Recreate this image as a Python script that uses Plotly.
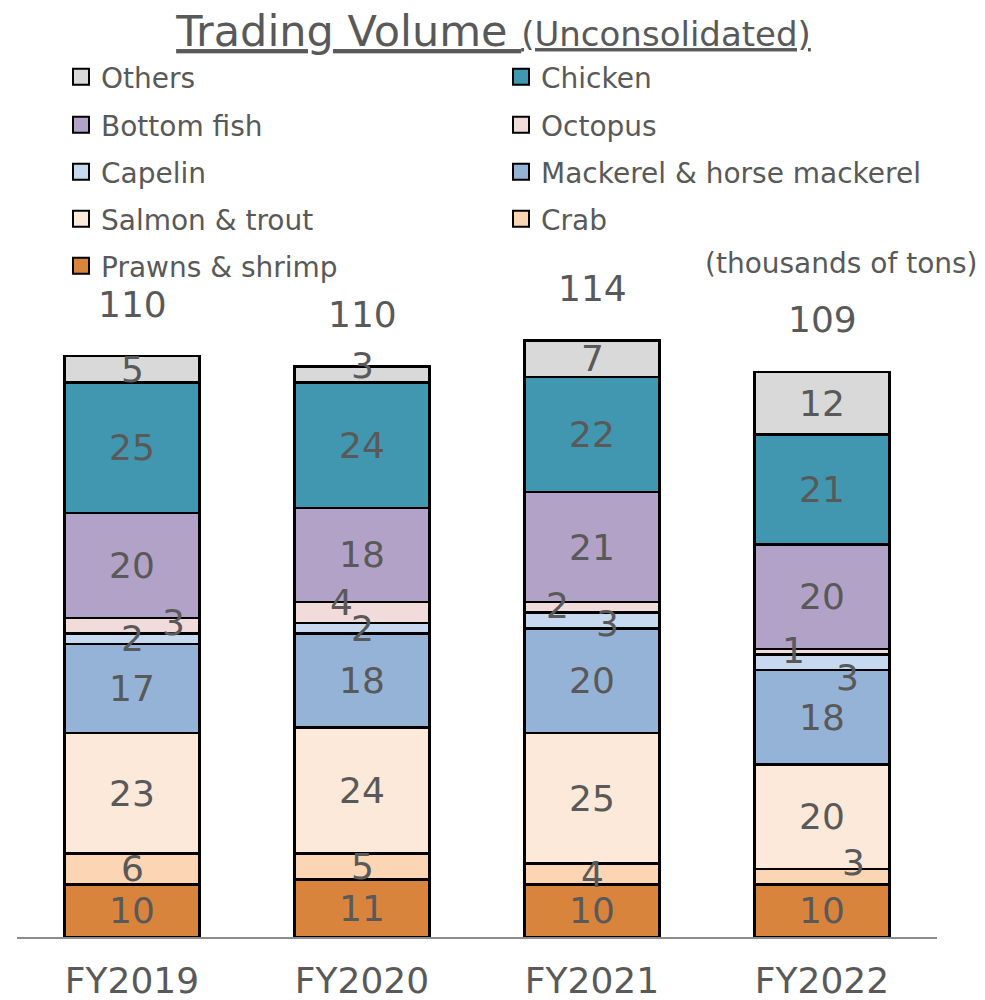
import plotly.graph_objects as go

# ---------------- data ----------------
years = ["FY2019", "FY2020", "FY2021", "FY2022"]
series_names = ["Prawns & shrimp", "Crab", "Salmon & trout", "Mackerel & horse mackerel",
                "Capelin", "Octopus", "Bottom fish", "Chicken", "Others"]
prawns = [10, 11, 10, 10]
crab = [6, 5, 4, 3]
salmon = [23, 24, 25, 20]
mackerel = [17, 18, 20, 18]
capelin = [2, 2, 3, 3]
octopus = [3, 4, 2, 1]
bottom_fish = [20, 18, 21, 20]
chicken = [25, 24, 22, 21]
others = [5, 3, 7, 12]
totals = [110, 110, 114, 109]

series_values = [prawns, crab, salmon, mackerel, capelin, octopus, bottom_fish, chicken, others]

# ---------------- style ----------------
colors = ["#D9843D", "#FCD5B4", "#FDE9D9", "#95B3D7", "#C6D9F0",
          "#F2DCDB", "#B2A2C7", "#4197AF", "#D9D9D9"]
TXT = "#595959"
FONT = "DejaVu Sans"

W, H = 985, 1000
# plot area in pixels (figure margins are zero; axes domains place the plot)
PL, PR, PT, PB = 17, 937, 280, 937
PX_PER_UNIT = 5.233
YMAX = (PB - PT) / PX_PER_UNIT

# label offsets (px) for crowded segments: (series index, year index) -> (xshift, yshift)
label_offsets = {
    (5, 0): (41, 3), (4, 0): (0, 0),
    (5, 1): (-21, 10), (4, 1): (0, 0), (8, 1): (0, 9),
    (5, 2): (-35, 2), (4, 2): (15, -3),
    (5, 3): (-29, 1), (4, 3): (25, -15), (1, 3): (31, 14),
}


def fx(x):
    return x / W


def fy(y):
    return 1 - y / H


fig = go.Figure()

for name, vals, col in zip(series_names, series_values, colors):
    fig.add_trace(go.Bar(
        x=years, y=vals, name=name, showlegend=False, hoverinfo="skip",
        marker=dict(color=col, line=dict(color="black", width=2.5)),
    ))

# legend (two columns, five rows) -- display order
legend_rows = [
    ["Others", "Chicken"],
    ["Bottom fish", "Octopus"],
    ["Capelin", "Mackerel & horse mackerel"],
    ["Salmon & trout", "Crab"],
    ["Prawns & shrimp"],
]
row_y = [77, 125, 172, 219, 266]
legend_layouts = {}
for r, names in enumerate(legend_rows):
    lname = "legend" if r == 0 else f"legend{r + 1}"
    for nm in names:
        col = colors[series_names.index(nm)]
        fig.add_trace(go.Scatter(
            x=[None], y=[None], mode="markers", name=nm, legend=lname,
            marker=dict(symbol="square", size=20, color=col,
                        line=dict(color="black", width=2)),
        ))
    legend_layouts[lname] = dict(
        orientation="h", x=fx(61), y=fy(row_y[r]), xanchor="left", yanchor="middle",
        xref="paper", yref="paper",
        entrywidth=395, entrywidthmode="pixels", itemsizing="trace",
        font=dict(size=28, color=TXT, family=FONT), bgcolor="rgba(0,0,0,0)",
        traceorder="normal", itemclick=False, itemdoubleclick=False,
    )

annotations = []
for ci, yr in enumerate(years):
    base = 0
    for si, vals in enumerate(series_values):
        v = vals[ci]
        dx, dy = label_offsets.get((si, ci), (0, 0))
        annotations.append(dict(
            x=yr, y=base + v / 2, xref="x", yref="y", text=str(v), showarrow=False,
            xshift=dx, yshift=dy, font=dict(size=36, color=TXT, family=FONT),
            xanchor="center", yanchor="middle",
        ))
        base += v
    annotations.append(dict(
        x=yr, y=base, xref="x", yref="y", text=str(totals[ci]), showarrow=False,
        yshift=52, font=dict(size=36, color=TXT, family=FONT),
        xanchor="center", yanchor="middle",
    ))

annotations.append(dict(
    x=fx(841), y=fy(263), xref="paper", yref="paper", text="(thousands of tons)",
    showarrow=False, font=dict(size=28, color=TXT, family=FONT),
    xanchor="center", yanchor="middle",
))

fig.update_layout(
    width=W, height=H,
    margin=dict(l=0, r=0, t=0, b=0, autoexpand=False),
    paper_bgcolor="white", plot_bgcolor="white",
    barmode="stack", bargap=0.413,
    font=dict(family=FONT, color=TXT),
    title=dict(
        text="<u>Trading Volume\u00a0<span style='font-size:34px'>(Unconsolidated)</span></u>",
        x=493.5 / W, xref="container", xanchor="center",
        y=1 - 31 / H, yref="container", yanchor="middle",
        font=dict(size=43, color=TXT, family=FONT),
    ),
    xaxis=dict(
        type="category", showgrid=False, zeroline=False, automargin=False,
        domain=[PL / W, PR / W],
        showline=True, linecolor="#8C8C8C", linewidth=1.5,
        tickfont=dict(size=36, color=TXT, family=FONT), ticks="",
        ticklabelstandoff=11,
    ),
    yaxis=dict(range=[0, YMAX], visible=False, showgrid=False, zeroline=False,
               automargin=False, domain=[1 - PB / H, 1 - PT / H]),
    annotations=annotations,
    **legend_layouts,
)

fig.write_html("out.html", config={"displayModeBar": False},
               post_script="document.body.style.margin='0px';")
